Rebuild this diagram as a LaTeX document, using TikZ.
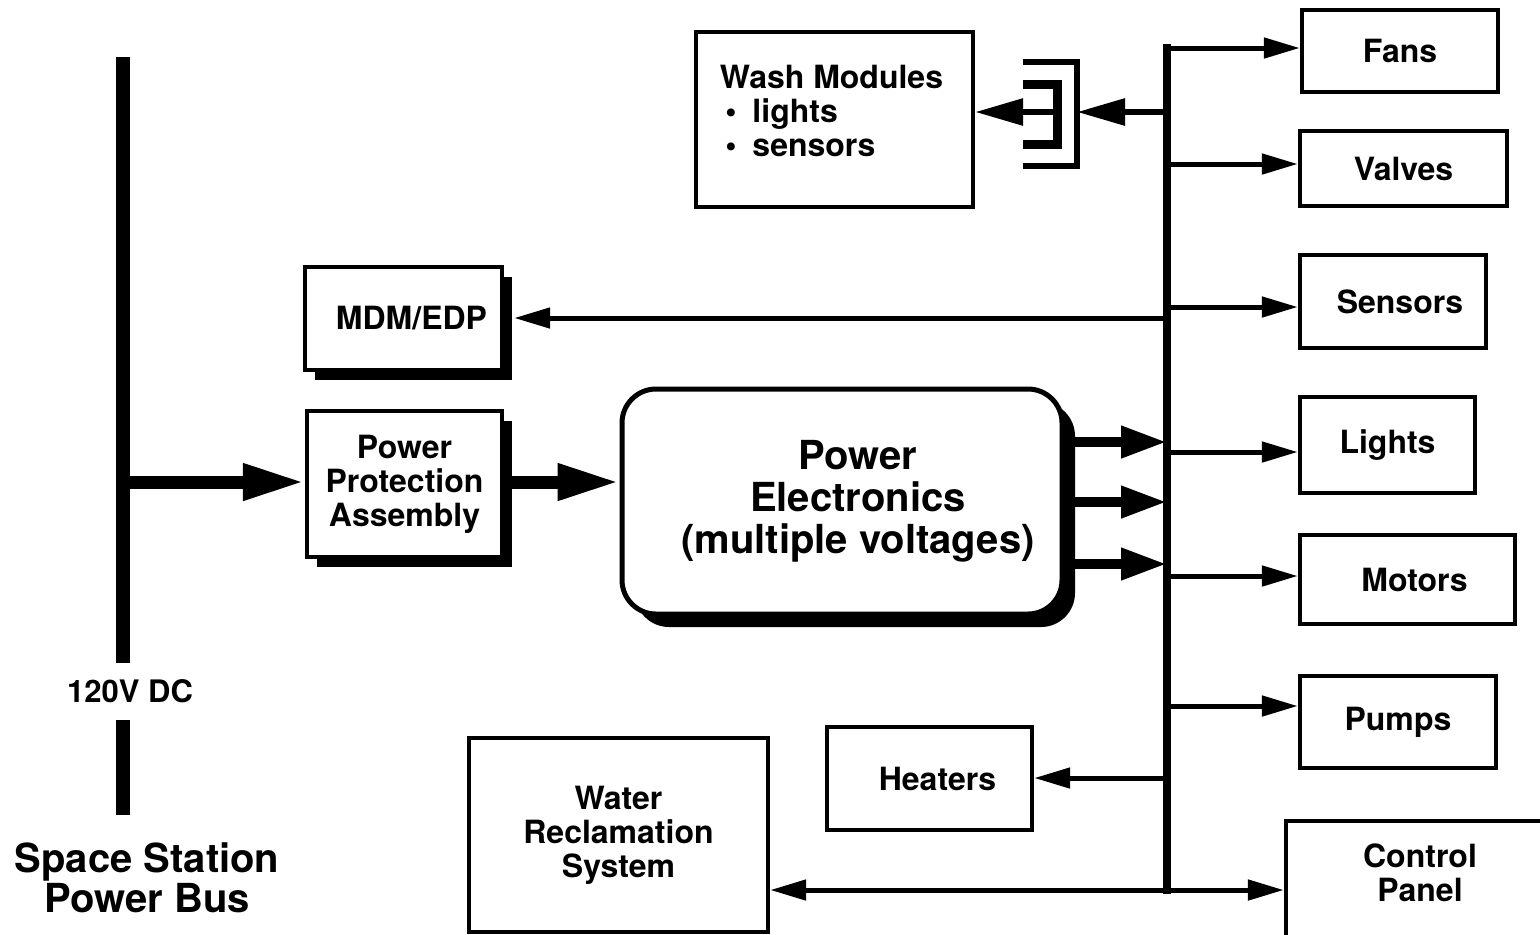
\documentclass[tikz,border=0pt]{standalone}
\usepackage{fontspec}
\setmainfont{TeX Gyre Heros}
\usetikzlibrary{arrows.meta, shadows}
\tikzset{
  ps box/.style={
    rectangle, draw=black, line width=2.2pt, fill=white,
    align=center, font=\fontsize{16pt}{17pt}\selectfont\bfseries,
    inner sep=2pt
  },
  ps shadow/.style={
    ps box, drop shadow={shadow xshift=5pt, shadow yshift=-5pt, fill=black, opacity=1}
  },
  ps core/.style={
    ps box, rounded corners=17pt, line width=2.5pt,
    drop shadow={shadow xshift=6.5pt, shadow yshift=-6.5pt, fill=black, opacity=1}
  },
  ps label/.style={
    align=center, font=\fontsize{16pt}{17pt}\selectfont\bfseries, inner sep=0pt
  },
  ps big label/.style={
    align=center, font=\fontsize{20pt}{21pt}\selectfont\bfseries, inner sep=0pt
  },
  ps title/.style={
    align=center, font=\fontsize{20pt}{20pt}\selectfont\bfseries, inner sep=0pt
  },
  bus line/.style={line width=7pt},
  dist line/.style={line width=4pt, line cap=rect},
  fine arrow/.style={-{Triangle[length=18pt, width=10pt]}, line width=2.5pt},
  plug arrow/.style={-{Triangle[length=24pt, width=13pt]}, line width=3pt},
  core arrow/.style={-{Triangle[length=23pt, width=15pt]}, line width=5pt},
  bold arrow/.style={-{Triangle[length=31pt, width=17pt]}, line width=6.5pt}
}
\begin{document}
\begin{tikzpicture}[x=0.5pt, y=-0.5pt]
  \useasboundingbox (0,0) rectangle (1540,934);
  % Power bus on the left
  \node (volt) [inner sep=0pt, minimum height=28.5pt,
    font=\fontsize{15.5pt}{17pt}\selectfont\bfseries] at (130,691.5) {120V DC};
  \node (busname) [ps title] at (147,878) {Space Station\\Power Bus};
  \coordinate (bus top) at (123,57);
  \coordinate (bus bot) at (123,815);
  \coordinate (bus tap) at (123,482);

  % Boxes, left and middle
  \node (mdm) [ps shadow, minimum width=98.5pt, minimum height=51.5pt,
    label={[ps label, xshift=4pt]center:MDM/EDP}] at (403.5,318.5) {};
  \node (ppa) [ps shadow, minimum width=97.5pt, minimum height=73pt] at (404.5,484) {Power\\Protection\\Assembly};
  \node (pe) [ps core, minimum width=220pt, minimum height=112.5pt,
    label={[ps big label, xshift=8pt]center:{Power\\Electronics\\(multiple voltages)}}] at (842,501.5) {};
  \node (wash) [ps box, minimum width=138.5pt, minimum height=87.5pt,
    label={[ps label, align=left, xshift=-1.5pt, yshift=4.5pt]center:{Wash Modules\\\,•\enspace lights\\\,•\enspace sensors}}] at (834.5,119.5) {};
  \node (heat) [ps box, minimum width=102.5pt, minimum height=51.5pt] at (929.5,778.5) {\hspace*{8pt}Heaters};
  \node (water) [ps box, minimum width=149.5pt, minimum height=97pt] at (618.5,835) {Water\\Reclamation\\System};

  % Boxes on the right
  \node (fans) [ps box, minimum width=98pt, minimum height=41pt] at (1400,51) {Fans};
  \node (valves) [ps box, minimum width=103.5pt, minimum height=37.5pt] at (1403.5,168.5) {Valves};
  \node (sensors) [ps box, minimum width=93pt, minimum height=46.5pt] at (1393,301.5) {\hspace*{7pt}Sensors};
  \node (lights) [ps box, minimum width=87.5pt, minimum height=48pt] at (1387.5,445) {Lights};
  \node (motors) [ps box, minimum width=107.5pt, minimum height=44.5pt] at (1407.5,579.5) {\hspace*{7pt}Motors};
  \node (pumps) [ps box, minimum width=98pt, minimum height=46pt] at (1398,722) {Pumps};
  \node (ctrl) [ps box, minimum width=134pt, minimum height=64.5pt,
    label={[ps label, yshift=6.25pt]center:{Control\\Panel}}] at (1420,885.5) {};

  % Taps on the distribution line
  \coordinate (tap fans) at (1167,48);
  \coordinate (tap wash) at (1167,112);
  \coordinate (tap valves) at (1167,164);
  \coordinate (tap sensors) at (1167,307);
  \coordinate (tap mdm) at (1167,318);
  \coordinate (tap pe1) at (1167,442);
  \coordinate (tap lights) at (1167,452);
  \coordinate (tap pe2) at (1167,502);
  \coordinate (tap pe3) at (1167,564);
  \coordinate (tap motors) at (1167,576);
  \coordinate (tap pumps) at (1167,706);
  \coordinate (tap heat) at (1167,778);
  \coordinate (tap ctrl) at (1167,890);
  \coordinate (plug) at (1077,112);
  \coordinate (sock) at (1055,112);

  % Bus and main feed
  \draw [bus line] (bus top) -- (bus top |- volt.north);
  \draw [bus line] (bus top |- volt.south) -- (bus bot);
  \draw [bold arrow] (bus tap) -- (bus tap -| ppa.west);
  \draw [bold arrow] (bus tap -| ppa.east) -- (bus tap -| pe.west);
  \draw [core arrow] (tap pe1 -| pe.east) -- (tap pe1);
  \draw [core arrow] (tap pe2 -| pe.east) -- (tap pe2);
  \draw [core arrow] (tap pe3 -| pe.east) -- (tap pe3);

  % Distribution line and branches
  \draw [dist line] (tap fans) -- (tap ctrl);
  \draw [fine arrow] (tap fans) -- (tap fans -| fans.west);
  \draw [fine arrow] (tap valves) -- (tap valves -| valves.west);
  \draw [fine arrow] (tap sensors) -- (tap sensors -| sensors.west);
  \draw [fine arrow] (tap lights) -- (tap lights -| lights.west);
  \draw [fine arrow] (tap motors) -- (tap motors -| motors.west);
  \draw [fine arrow] (tap pumps) -- (tap pumps -| pumps.west);
  \draw [fine arrow] (tap ctrl) -- (tap ctrl -| ctrl.west);
  \draw [fine arrow] (tap ctrl) -- (tap ctrl -| water.east);
  \draw [fine arrow] (tap heat) -- (tap heat -| heat.east);
  \draw [fine arrow, shorten >=5pt] (tap mdm) -- (tap mdm -| mdm.east);

  % Connector to the wash modules
  \draw [line width=3pt] (1023,62) -- (1077,62) -- (1077,166) -- (1023,166);
  \draw [line width=4.5pt] (1023,84) -- (1057,84) -- (1057,144) -- (1023,144);
  \draw [plug arrow] (tap wash) -- (plug);
  \draw [plug arrow] (sock) -- (sock -| wash.east);
\end{tikzpicture}
\end{document}
